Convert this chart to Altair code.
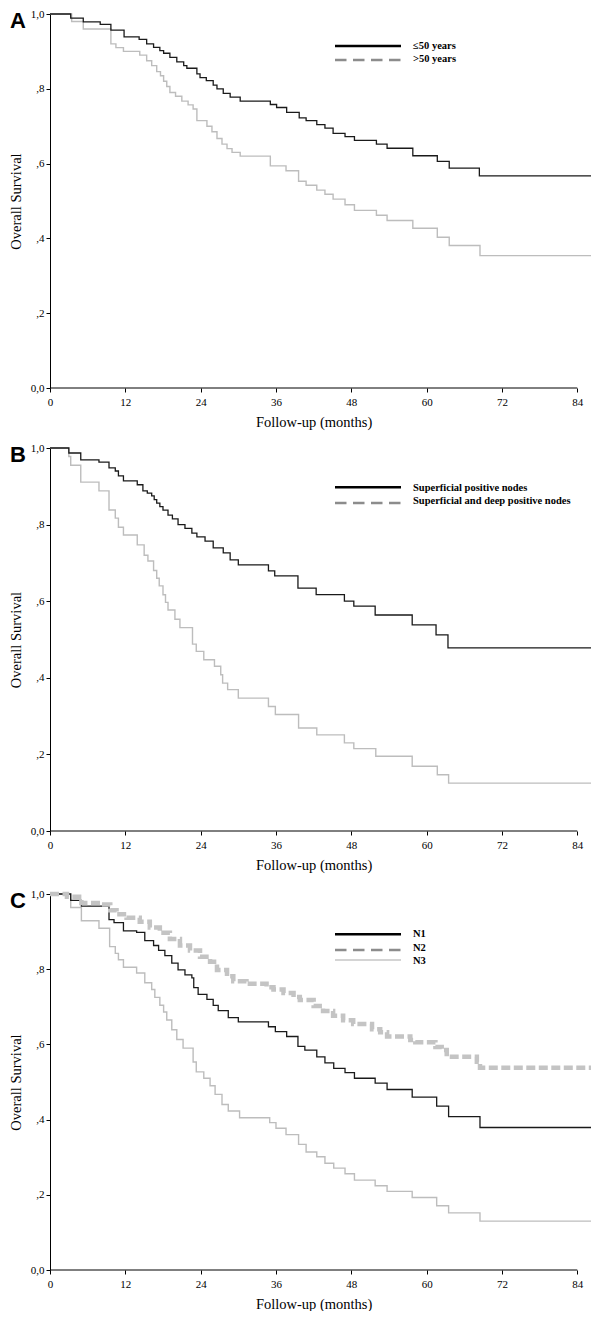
import json
import altair as alt
import pandas as pd

# ---------------- data ----------------
X_TICKS = [0, 12, 24, 36, 48, 60, 72, 84]
Y_TICKS = [0.0, 0.2, 0.4, 0.6, 0.8, 1.0]
Y_TICK_LABELS = ["0,0", ",2", ",4", ",6", ",8", "1,0"]
X_TITLE = "Follow-up (months)"
Y_TITLE = "Overall Survival"
PANEL_LETTERS = ["A", "B", "C"]

# Panel A: age
A_YOUNG_T = [0, 3.3, 5.3, 8.0, 9.7, 11.8, 14.2, 15.4, 16.5, 17.5, 18.1, 19.1, 20.2, 21.3, 21.8, 23.4, 23.9,
             24.9, 26.0, 26.6, 27.6, 28.7, 30.3, 35.1, 36.1, 37.7, 39.7, 40.8, 42.5, 43.8, 45.1, 47.0, 48.5,
             52.0, 53.7, 57.8, 61.7, 63.6, 68.4, 87.2]
A_YOUNG_S = [1.0, 0.989, 0.979, 0.972, 0.957, 0.939, 0.932, 0.92, 0.911, 0.902, 0.895, 0.884, 0.872, 0.862,
             0.855, 0.84, 0.83, 0.822, 0.81, 0.8, 0.788, 0.778, 0.767, 0.758, 0.75, 0.737, 0.722, 0.715, 0.704,
             0.695, 0.681, 0.672, 0.662, 0.652, 0.641, 0.621, 0.606, 0.588, 0.567, 0.567]
A_OLD_T = [0, 3.45, 5.3, 9.7, 10.5, 11.7, 14.3, 15.4, 16.2, 17.0, 17.6, 18.1, 18.6, 19.1, 20.0, 21.0, 22.0,
           22.8, 23.4, 25.0, 25.8, 26.6, 27.4, 28.2, 29.0, 30.3, 35.1, 37.6, 39.6, 40.8, 42.5, 43.8, 45.1,
           47.0, 48.5, 52.0, 53.7, 57.8, 61.7, 63.6, 68.5, 87.2]
A_OLD_S = [1.0, 0.98, 0.96, 0.92, 0.91, 0.90, 0.89, 0.875, 0.862, 0.846, 0.835, 0.82, 0.806, 0.79, 0.78,
           0.767, 0.757, 0.746, 0.715, 0.70, 0.685, 0.667, 0.652, 0.64, 0.63, 0.62, 0.594, 0.581, 0.553,
           0.542, 0.529, 0.518, 0.505, 0.49, 0.475, 0.462, 0.448, 0.427, 0.403, 0.381, 0.354, 0.354]
LEGEND_A = ["\u226450 years", ">50 years"]

# Panel B: node level
B_SUP_T = [0, 3.0, 4.9, 7.8, 9.4, 10.4, 10.9, 11.7, 13.9, 14.8, 15.5, 16.2, 16.6, 17.0, 17.5, 18.0, 18.8,
           19.5, 20.4, 21.5, 22.6, 23.4, 24.7, 26.0, 27.6, 28.7, 30.0, 34.8, 35.8, 39.5, 42.4, 46.9, 48.4,
           51.8, 57.7, 61.5, 63.4, 87.1]
B_SUP_S = [1.0, 0.987, 0.969, 0.963, 0.948, 0.94, 0.927, 0.914, 0.904, 0.888, 0.882, 0.875, 0.865, 0.856,
           0.847, 0.838, 0.825, 0.815, 0.80, 0.79, 0.778, 0.768, 0.757, 0.739, 0.726, 0.708, 0.695, 0.679,
           0.666, 0.634, 0.617, 0.60, 0.587, 0.564, 0.538, 0.512, 0.478, 0.478]
B_DEEP_T = [0, 3.0, 3.3, 4.9, 7.8, 9.4, 10.4, 10.9, 11.7, 13.9, 15.0, 15.6, 16.5, 17.0, 17.4, 18.0, 18.4,
            18.8, 19.9, 20.7, 22.7, 23.3, 24.5, 26.2, 27.2, 27.5, 28.3, 30.0, 34.8, 35.9, 39.6, 42.5, 46.9,
            48.4, 51.9, 57.7, 61.7, 63.5, 87.1]
B_DEEP_S = [1.0, 0.978, 0.955, 0.911, 0.888, 0.838, 0.817, 0.793, 0.773, 0.747, 0.72, 0.705, 0.68, 0.66,
            0.64, 0.617, 0.597, 0.577, 0.553, 0.531, 0.488, 0.469, 0.447, 0.43, 0.408, 0.386, 0.369, 0.347,
            0.325, 0.304, 0.269, 0.251, 0.23, 0.215, 0.195, 0.169, 0.147, 0.125, 0.125]
LEGEND_B = ["Superficial positive nodes", "Superficial and deep positive nodes"]

# Panel C: N stage
C_N1_T = [0, 3.3, 5.0, 9.4, 10.2, 11.7, 13.8, 15.1, 16.5, 17.3, 18.3, 19.4, 20.4, 21.5, 22.6, 22.9, 23.6,
          25.0, 26.0, 26.8, 28.4, 30.0, 34.8, 35.9, 37.7, 39.5, 40.6, 42.5, 43.8, 45.2, 47.0, 48.5, 51.8,
          53.7, 57.7, 61.6, 63.5, 68.5, 87.1]
C_N1_S = [1.0, 0.983, 0.968, 0.932, 0.924, 0.902, 0.898, 0.876, 0.863, 0.85, 0.836, 0.816, 0.798, 0.785,
          0.777, 0.751, 0.733, 0.72, 0.704, 0.69, 0.671, 0.66, 0.647, 0.634, 0.621, 0.595, 0.585, 0.567,
          0.551, 0.536, 0.525, 0.51, 0.497, 0.48, 0.46, 0.436, 0.408, 0.379, 0.379]
C_N2_T = [0, 2.7, 5.0, 8.0, 9.6, 10.6, 12.2, 14.3, 15.9, 17.5, 19.1, 20.7, 22.3, 23.9, 25.5, 26.6, 28.2,
          29.2, 31.3, 34.5, 35.6, 37.2, 38.8, 39.8, 42.0, 43.5, 45.1, 46.7, 48.3, 51.3, 52.6, 53.7, 57.4,
          58.2, 61.4, 62.4, 63.2, 68.0, 68.5, 87.1]
C_N2_S = [1.0, 0.993, 0.976, 0.972, 0.957, 0.946, 0.937, 0.926, 0.911, 0.897, 0.88, 0.863, 0.85, 0.833,
          0.82, 0.798, 0.781, 0.768, 0.761, 0.752, 0.746, 0.737, 0.726, 0.718, 0.702, 0.689, 0.676, 0.664,
          0.654, 0.64, 0.632, 0.621, 0.612, 0.606, 0.593, 0.585, 0.567, 0.554, 0.538, 0.538]
C_N3_T = [0, 3.3, 5.0, 7.8, 9.5, 10.4, 10.9, 11.7, 13.8, 15.1, 16.2, 16.7, 17.5, 18.1, 18.6, 19.4, 20.2,
          21.2, 22.8, 23.3, 24.5, 25.5, 26.3, 27.4, 28.4, 30.2, 35.0, 36.0, 37.6, 39.6, 40.8, 42.5, 43.8,
          45.2, 47.0, 48.5, 51.8, 53.7, 57.7, 61.6, 63.5, 68.5, 87.1]
C_N3_S = [1.0, 0.964, 0.929, 0.909, 0.86, 0.842, 0.825, 0.805, 0.79, 0.764, 0.746, 0.725, 0.704, 0.686,
          0.665, 0.639, 0.613, 0.59, 0.553, 0.527, 0.51, 0.49, 0.467, 0.44, 0.423, 0.405, 0.392, 0.377,
          0.36, 0.334, 0.314, 0.301, 0.284, 0.271, 0.256, 0.239, 0.224, 0.209, 0.193, 0.171, 0.152, 0.13, 0.13]
LEGEND_C = ["N1", "N2", "N3"]

# ---------------- styling ----------------
SERIF = "Liberation Serif"
SANS = "Liberation Sans"
X_MAX = 87.3
W = 548
H_A, H_B, H_C = 374, 383, 376

BLACK = "#1a1a1a"
LIGHT = "#bdbdbd"
N2_GREY = "#c4c4c4"
LEG_DASH = "#8c8c8c"

x_scale = alt.Scale(domain=[0, X_MAX], nice=False, zero=False)
y_scale = alt.Scale(domain=[0, 1], nice=False, zero=False)

label_expr = json.dumps(Y_TICK_LABELS) + "[round(datum.value * 5)]"
x_title_center = (X_TICKS[-1] / X_MAX) * W / 2

x_axis = alt.Axis(values=X_TICKS, title=X_TITLE, domain=False, grid=False, tickSize=4, tickColor="black",
                  tickWidth=1, labelFont=SERIF, labelFontSize=11, labelColor="black", labelPadding=4,
                  labelFlush=False, titleFont=SERIF, titleFontSize=14.5, titleFontWeight="normal",
                  titleColor="black", titleX=x_title_center, titleY=27, titleBaseline="top",
                  titleAlign="center")
y_axis = alt.Axis(values=Y_TICKS, labelExpr=label_expr, title=Y_TITLE, domain=True, domainColor="black",
                  domainWidth=1, grid=False, tickSize=4, tickColor="black", tickWidth=1, labelFont=SERIF,
                  labelFontSize=11, labelColor="black", labelPadding=2, titleFont=SERIF, titleFontSize=14.5,
                  titleFontWeight="normal", titleColor="black", titleAngle=270, titleBaseline="bottom",
                  titleAlign="center", titleX=-26.5)

STYLES = {
    "black": dict(color=BLACK, strokeWidth=1.3),
    "light": dict(color=LIGHT, strokeWidth=1.4),
    "thick": dict(color=N2_GREY, strokeWidth=4.5, strokeDash=[9, 3.5]),
}
LEGEND_STYLES = {
    "black": dict(color="black", strokeWidth=2.5),
    "dash": dict(color=LEG_DASH, strokeWidth=2.5, strokeDash=[11.5, 6.5]),
    "thin": dict(color="#aaaaaa", strokeWidth=1.2),
}


def km_layer(times, surv, style):
    df = pd.DataFrame({"t": times, "s": surv})
    return alt.Chart(df).mark_line(interpolate="step-after", clip=False, **STYLES[style]).encode(
        x=alt.X("t:Q", scale=x_scale, axis=x_axis),
        y=alt.Y("s:Q", scale=y_scale, axis=y_axis),
    )


def x_axis_line():
    df = pd.DataFrame({"t": [X_TICKS[0]], "t2": [X_TICKS[-1]], "s": [Y_TICKS[0]]})
    return alt.Chart(df).mark_rule(color="black", strokeWidth=1).encode(
        x=alt.X("t:Q", scale=x_scale, axis=x_axis),
        x2="t2:Q",
        y=alt.Y("s:Q", scale=y_scale, axis=y_axis),
    )


def legend_layers(rows):
    layers = []
    for label, y_line, y_text, style in rows:
        df = pd.DataFrame({"label": [label]})
        layers.append(alt.Chart(df).mark_rule(**LEGEND_STYLES[style]).encode(
            x=alt.value(285), x2=alt.value(351), y=alt.value(y_line)))
        layers.append(alt.Chart(df).mark_text(align="left", baseline="middle", font=SERIF,
                                              fontWeight="bold", fontSize=10.5, color="black").encode(
            x=alt.value(363), y=alt.value(y_text), text="label:N"))
    return layers


def letter_layer(letter):
    df = pd.DataFrame({"letter": [letter]})
    return alt.Chart(df).mark_text(align="left", baseline="alphabetic", font=SANS, fontWeight="bold",
                                   fontSize=22, color="black").encode(
        x=alt.value(-40), y=alt.value(14), text="letter:N")


panel_a = alt.layer(
    km_layer(A_OLD_T, A_OLD_S, "light"),
    km_layer(A_YOUNG_T, A_YOUNG_S, "black"),
    x_axis_line(),
    *legend_layers([(LEGEND_A[0], 32, 32, "black"), (LEGEND_A[1], 46, 44.5, "dash")]),
    letter_layer(PANEL_LETTERS[0]),
).properties(width=W, height=H_A)

panel_b = alt.layer(
    km_layer(B_DEEP_T, B_DEEP_S, "light"),
    km_layer(B_SUP_T, B_SUP_S, "black"),
    x_axis_line(),
    *legend_layers([(LEGEND_B[0], 39.3, 40, "black"), (LEGEND_B[1], 55, 52.7, "dash")]),
    letter_layer(PANEL_LETTERS[1]),
).properties(width=W, height=H_B)

panel_c = alt.layer(
    km_layer(C_N3_T, C_N3_S, "light"),
    km_layer(C_N1_T, C_N1_S, "black"),
    km_layer(C_N2_T, C_N2_S, "thick"),
    x_axis_line(),
    *legend_layers([(LEGEND_C[0], 40.3, 40.3, "black"), (LEGEND_C[1], 56, 54.3, "dash"),
                    (LEGEND_C[2], 66, 67, "thin")]),
    letter_layer(PANEL_LETTERS[2]),
).properties(width=W, height=H_C)

chart = alt.vconcat(panel_a, panel_b, panel_c, spacing=13).properties(
    padding={"left": 0, "top": 0, "right": -15, "bottom": 0}
).configure_view(stroke=None)

chart.save("out.html", embed_options={"renderer": "svg", "actions": False})
